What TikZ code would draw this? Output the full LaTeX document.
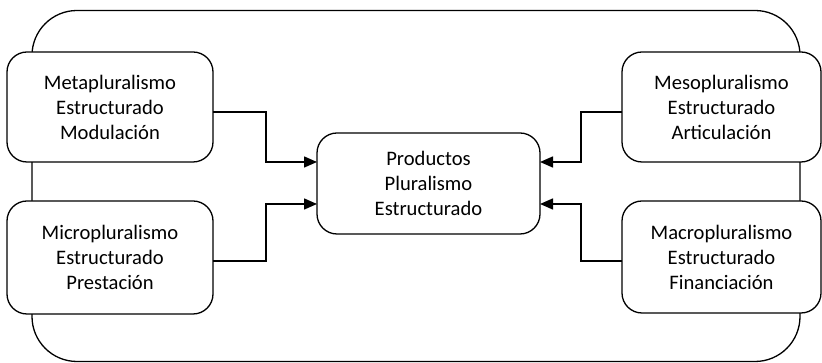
\documentclass[tikz,border=0pt]{standalone}
\usepackage{fontspec}
\setmainfont{Carlito}
\usetikzlibrary{arrows.meta,calc}
\begin{document}
\begin{tikzpicture}[x=1pt,y=1pt,
  box/.style={draw,line width=1.3pt,rounded corners=20pt,align=center,
    font=\fontsize{20.6}{25}\selectfont,inner sep=0pt,outer sep=0pt},
  arr/.style={line width=1.5pt,-{Triangle[length=13pt,width=11pt]}}]
\useasboundingbox (0,0) rectangle (822,363);
\draw[line width=1.3pt,rounded corners=45pt] (32,1.5) rectangle (800,352.5);
\node[box,fill=white,minimum width=206pt,minimum height=110pt] (TL) at (110,256) {Metapluralismo\\Estructurado\\Modulación};
\node[box,fill=white,minimum width=206pt,minimum height=113pt] (BL) at (110,105.5) {Micropluralismo\\Estructurado\\Prestación};
\node[box,fill=white,minimum width=223pt,minimum height=101pt] (C) at (428.5,179.5) {Productos\\Pluralismo\\Estructurado};
\node[box,fill=white,minimum width=199pt,minimum height=110pt] (TR) at (721.5,256) {Mesopluralismo\\Estructurado\\Articulación};
\node[box,fill=white,minimum width=199pt,minimum height=112pt] (BR) at (721.5,106) {Macropluralismo\\Estructurado\\Financiación};
\draw[arr] ([yshift=-5pt]TL.east) -- ++(53,0) |- ([yshift=21.5pt]C.west);
\draw[arr] ([yshift=-3.5pt]BL.east) -- ++(53,0) |- ([yshift=-20.5pt]C.west);
\draw[arr] ([yshift=-5pt]TR.west) -- ++(-41,0) |- ([yshift=21.5pt]C.east);
\draw[arr] ([yshift=-4pt]BR.west) -- ++(-41,0) |- ([yshift=-20.5pt]C.east);
\end{tikzpicture}
\end{document}
